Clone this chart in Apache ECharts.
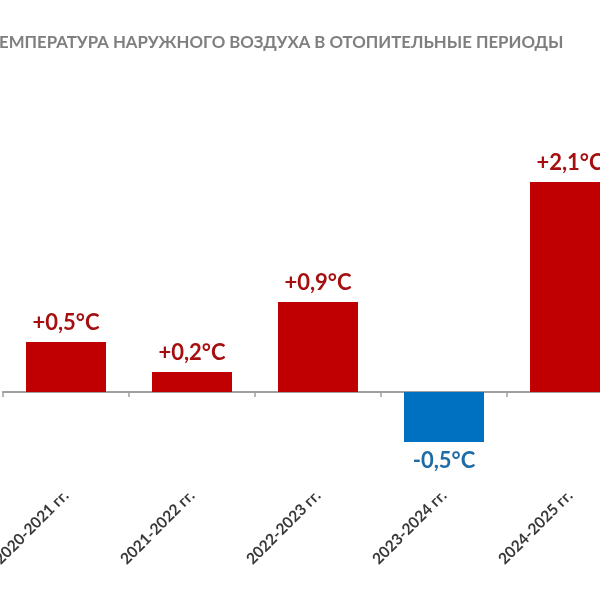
<!DOCTYPE html>
<html>
<head>
<meta charset="utf-8">
<title>Температура наружного воздуха</title>
<script src="https://cdn.jsdelivr.net/npm/echarts@6/dist/echarts.min.js"></script>
<style>
  html, body { margin: 0; padding: 0; background: #fff; }
  #chart { width: 600px; height: 600px; }
</style>
</head>
<body>
<div id="chart"></div>
<script>
// периоды и отклонение температуры, °C
var periods = ['2020-2021 гг.', '2021-2022 гг.', '2022-2023 гг.', '2023-2024 гг.', '2024-2025 гг.']
var deltas = [0.5, 0.2, 0.9, -0.5, 2.1]

var titleText = 'ТЕМПЕРАТУРА НАРУЖНОГО ВОЗДУХА В ОТОПИТЕЛЬНЫЕ ПЕРИОДЫ'

function fmt(v) {
  var s = v.toFixed(1).replace('.', ',')
  return (v > 0 ? '+' : '') + s + '°C'
}

var myChart = echarts.init(document.getElementById('chart'))

var option = {
  animation: false,
  title: {
    text: titleText,
    left: -16,
    top: 29,
    textStyle: {
      fontFamily: 'Lato',
      fontWeight: 'bold',
      fontSize: 16.8,
      color: '#7F7F7F'
    }
  },
  grid: {
    left: 3,
    right: -33,
    top: 142,
    bottom: 108,
    outerBoundsMode: 'none',
    containLabel: false
  },
  xAxis: {
    type: 'category',
    data: periods,
    axisLine: {
      lineStyle: { color: '#A0A0A0', width: 2 }
    },
    axisTick: {
      show: true,
      length: 5,
      lineStyle: { color: '#A0A0A0', width: 1.5 }
    },
    axisLabel: {
      rotate: 45,
      margin: 1,
      fontFamily: 'Lato',
      fontWeight: 'bold',
      fontSize: 15.5,
      color: '#383838'
    }
  },
  yAxis: {
    type: 'value',
    min: -1,
    max: 2.5,
    show: false,
    splitLine: { show: false }
  },
  series: [
    {
      type: 'bar',
      barWidth: 80,
      data: deltas.map(function(v) {
        return {
          value: v,
          itemStyle: { color: v < 0 ? '#0070C0' : '#C00000' },
          label: {
            position: v < 0 ? 'bottom' : 'top',
            color: v < 0 ? '#1F6BA5' : '#A50F0F'
          }
        }
      }),
      label: {
        show: true,
        distance: 8,
        fontFamily: 'Lato',
        fontWeight: 'bold',
        fontSize: 22,
        formatter: function(p) {
          return fmt(p.value)
        }
      }
    }
  ]
}

myChart.setOption(option)
</script>
</body>
</html>
